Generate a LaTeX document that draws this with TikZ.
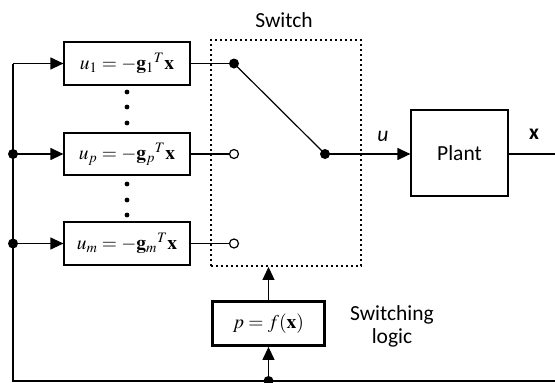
\documentclass[tikz,border=0pt]{standalone}
\usepackage{mathptmx}
\usepackage{fontspec}
\setsansfont{Carlito}
\usetikzlibrary{arrows.meta}
\begin{document}
\begin{tikzpicture}[x=1pt,y=-1pt,
  blk/.style={draw,line width=1.2pt,inner sep=0pt},
  lbl/.style={font=\sffamily\fontsize{21.5}{25}\selectfont},
  mth/.style={font=\fontsize{19.5}{22}\selectfont},
  conn/.style={line width=1.2pt},
  arr/.style={conn,-{Triangle[length=13pt,width=12pt]}},
  fdot/.style={circle,fill,inner sep=0pt,minimum size=10pt},
  odot/.style={circle,draw,fill=white,line width=1.2pt,inner sep=0pt,minimum size=9pt},
  sdot/.style={circle,fill,inner sep=0pt,minimum size=4.8pt}]
\useasboundingbox (0,0) rectangle (555,383);
% gain blocks
\node[blk,minimum width=126pt,minimum height=43pt,mth] (b1) at (127,63.5) {$u_1=-\mathbf{g}_1{}^T\mathbf{x}$};
\node[blk,minimum width=126pt,minimum height=42pt,mth] (bp) at (127,154) {$u_p=-\mathbf{g}_p{}^T\mathbf{x}$};
\node[blk,minimum width=126pt,minimum height=43pt,mth] (bm) at (127,243.5) {$u_m=-\mathbf{g}_m{}^T\mathbf{x}$};
% vertical dots
\foreach \y [count=\i] in {92,107,123} \node[sdot] (da\i) at (127,\y) {};
\foreach \y [count=\i] in {184,200,215} \node[sdot] (db\i) at (127,\y) {};
% switch box
\node[draw,line width=1.9pt,dash pattern=on 1.6pt off 3.4pt,minimum width=150pt,minimum height=226pt,inner sep=0pt] (sw) at (286,153) {};
\node[lbl] (swl) at (284,20) {Switch};
% contacts
\node[fdot] (c1) at (234,63.5) {};
\node[odot] (cp) at (234,154) {};
\node[odot] (cm) at (234,243.5) {};
\node[fdot] (pv) at (325,154) {};
% plant
\node[blk,minimum width=97pt,minimum height=86pt,lbl] (pl) at (459.5,153) {Plant};
\node[lbl,font=\sffamily\bfseries\fontsize{21.5}{25}\selectfont] (xl) at (534,134) {x};
\node[lbl,font=\sffamily\itshape\fontsize{21.5}{25}\selectfont] (ul) at (383,136) {u};
% switching logic
\node[blk,line width=2.8pt,minimum width=112pt,minimum height=44pt,mth] (sl) at (268.5,323.5) {$p=f(\mathbf{x})$};
\node[lbl,align=center] (sll) at (392,326) {Switching\\[-2pt]logic};
% coordinates
\coordinate (L1) at (13,63.5);
\coordinate (Lp) at (13,154);
\coordinate (Lm) at (13,243.5);
\coordinate (LB) at (13,381);
\coordinate (RB) at (556,381);
\coordinate (RO) at (556,154);
\node[fdot] (jp) at (Lp) {};
\node[fdot] (jm) at (Lm) {};
\node[fdot] (jb) at (268.5,381) {};
% connectors
\draw[arr] (L1) -- (b1.west);
\draw[arr] (jp.center) -- (bp.west);
\draw[arr] (jm.center) -- (bm.west);
\draw[conn] (RB) -- (LB) -- (L1);
\draw[conn] (b1.east) -- (c1.center);
\draw[conn] (bp.east) -- (cp);
\draw[conn] (bm.east) -- (cm);
\draw[conn] (c1.center) -- (pv.center);
\draw[arr] (pv.center) -- (pl.west |- pv);
\draw[conn] (pl.east |- RO) -- (RO);
\draw[arr] (jb.center) -- (sl.south);
\draw[arr] (sl.north) -- (sl.north |- sw.south);
\end{tikzpicture}
\end{document}
